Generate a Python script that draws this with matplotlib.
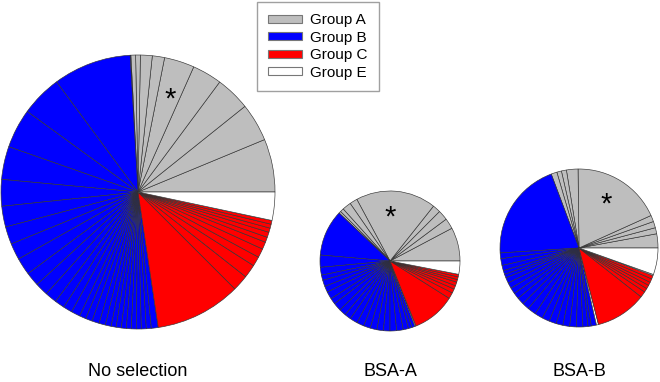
import matplotlib
matplotlib.use("Agg")
import matplotlib.pyplot as plt
from matplotlib.patches import Patch

plt.rcParams['font.family'] = ['Liberation Sans', 'DejaVu Sans']

# ---- data (slice shares, per group, counter-clockwise from 3 o'clock) ----
groups = ["Group A", "Group B", "Group C", "Group E"]
group_colors = {"A": "#BEBEBE", "B": "#0000FF", "C": "#FF0000", "E": "#FFFFFF"}

pie_labels = ["No selection", "BSA-A", "BSA-B"]

nosel_A = [22.5, 16.2, 14.7, 12.6, 12.8, 5.2, 5.0, 2.0, 2.0, 0.3]
nosel_B = [33.2, 17.5, 16.7, 14.0, 11.3, 8.8, 7.5, 7.0, 7.3, 5.9, 5.5, 5.0, 4.2,
           3.8, 3.8, 2.8, 2.8, 3.1, 2.7, 2.5, 2.1, 2.2, 2.1, 2.1, 2.1, 2.1, 2.1,
           2.1, 2.9]
nosel_C = [36.5, 6.8, 5.7, 4.1, 3.8, 3.1, 2.2, 2.2, 1.8, 1.7, 1.6]
nosel_E = [12.0]

bsaa_A = [27.9, 8.8, 8.3, 6.6, 66.7, 6.4, 7.3, 3.0, 1.7]
bsaa_B = [38.4, 10.1, 6.5, 4.4, 5.2, 5.1, 6.2, 5.0, 6.8, 5.8, 5.4, 6.3, 6.0,
          5.7, 5.6, 5.4, 5.4, 5.5, 5.5, 4.4, 2.9, 2.7]
bsaa_gap = [0.8]
bsaa_C = [36.0, 5.1, 3.5, 3.0, 3.0, 2.2, 2.3, 2.1]
bsaa_E = [11.0]

bsab_A = [10.4, 4.5, 4.7, 4.7, 66.4, 8.5, 3.7, 3.4, 4.3]
bsab_B = [73.0, 4.2, 5.0, 3.9, 2.8, 2.7, 4.1, 4.3, 4.5, 4.5, 5.2, 5.3, 6.2,
          6.1, 5.5, 5.3, 5.0, 5.0, 4.9, 4.8, 3.7, 2.4, 3.8]
bsab_gap = [1.5]
bsab_C = [37.5, 4.4, 2.9, 2.7, 2.5, 2.7, 2.6]
bsab_E = [0.8, 19.6]

pies = [
    [("A", nosel_A), ("B", nosel_B), ("C", nosel_C), ("E", nosel_E)],
    [("A", bsaa_A), ("B", bsaa_B), ("E", bsaa_gap), ("C", bsaa_C), ("E", bsaa_E)],
    [("A", bsab_A), ("B", bsab_B), ("E", bsab_gap), ("C", bsab_C), ("E", bsab_E)],
]

# layout (pixel space, y measured from top)
centers = [(138, 192), (390, 261), (579, 248)]
radii = [137, 70, 79]
star_pos = [(170, 100), (390, 218), (606, 205)]
label_y = 372

W, H = 660, 382
fig = plt.figure(figsize=(W / 100, H / 100), dpi=100)
ax = fig.add_axes([0, 0, 1, 1])

for parts, (cx, cy), r in zip(pies, centers, radii):
    vals, cols = [], []
    for g, v in parts:
        vals += v
        cols += [group_colors[g]] * len(v)
    ax.pie(vals, colors=cols, startangle=0, counterclock=True,
           center=(cx, H - cy), radius=r, normalize=True,
           wedgeprops=dict(edgecolor="#333333", linewidth=0.45))

for (sx, sy) in star_pos:
    ax.text(sx, H - sy, "*", fontsize=21, ha="center", va="center",
            color="black")

for lab, (cx, cy) in zip(pie_labels, centers):
    ax.text(cx, H - label_y, lab, fontsize=13, ha="center", va="center",
            color="black")

ax.set_xlim(0, W)
ax.set_ylim(0, H)
ax.set_aspect("equal")
ax.axis("off")

handles = [Patch(facecolor=group_colors[k], edgecolor="#777777", linewidth=0.8)
           for k in ["A", "B", "C", "E"]]
leg = fig.legend(handles, groups, loc="upper left",
                 bbox_to_anchor=(257 / W, 1 - 2 / H), fontsize=11,
                 frameon=True, fancybox=False, handlelength=2.2,
                 handleheight=0.45, labelspacing=0.22, borderpad=0.75,
                 handletextpad=0.55, borderaxespad=0)
leg.get_frame().set_edgecolor("#888888")
leg.get_frame().set_linewidth(1.0)

fig.savefig("out.png", dpi=100)
